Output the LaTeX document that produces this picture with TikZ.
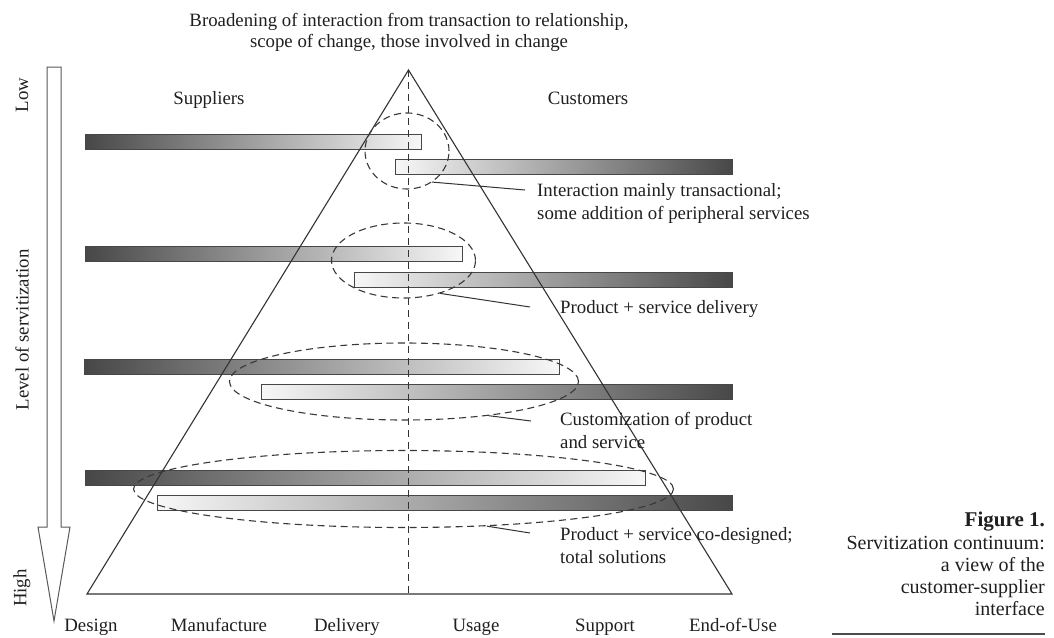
\documentclass[tikz,border=0pt]{standalone}
\usepackage{fontspec}
\setmainfont{Liberation Serif}
\usetikzlibrary{shapes.geometric}
\begin{document}
\begin{tikzpicture}[x=1pt,y=-1pt,
  ink/.style={draw=black!80, line width=1.1pt},
  guide/.style={draw=black!80, line width=1.1pt, dash pattern=on 7pt off 5pt},
  supbar/.style={rectangle, draw=black!72, line width=1pt, left color=black!72, right color=black!3,
                 minimum height=15pt, inner sep=0pt, anchor=north west},
  cusbar/.style={rectangle, draw=black!72, line width=1pt, left color=black!3, right color=black!72,
                 minimum height=15pt, inner sep=0pt, anchor=north west},
  ring/.style={ellipse, draw=black!78, line width=1.1pt, dash pattern=on 7pt off 4.5pt, inner sep=0pt},
  leader/.style={draw=black!80, line width=1pt},
  lbl/.style={font=\fontsize{18.8}{23}\selectfont, text=black!88, inner sep=0pt},
  figcaption/.style={font=\fontsize{20}{22.3}\selectfont, text=black!88, inner sep=0pt, align=right},
]
\useasboundingbox (0,0) rectangle (1054,637);

% title
\node[lbl, font=\fontsize{18.8}{21}\selectfont, align=center, anchor=north] (title) at (409,13)
  {Broadening of interaction from transaction to relationship,\\scope of change, those involved in change};

% servitization arrow on the left
\draw[draw=black!65, line width=1pt, fill=white]
  (47,67) -- (61,67) -- (61,527) -- (70,527) -- (54,621) -- (38,527) -- (47,527) -- cycle;
\node[lbl, rotate=90] (low) at (22,95) {Low};
\node[lbl, rotate=90] (level) at (22,330) {Level of servitization};
\node[lbl, rotate=90] (high) at (22,588) {High};

% column headings
\node[lbl, anchor=base] (sup) at (209,104) {Suppliers};
\node[lbl, anchor=base] (cus) at (588,104) {Customers};

% supplier and customer bars, one pair per level
\node[supbar, minimum width=336pt] (s1) at (85,133.5) {};
\node[cusbar, minimum width=337pt] (c1) at (395,159) {};
\node[supbar, minimum width=377pt] (s2) at (85,246) {};
\node[cusbar, minimum width=378pt] (c2) at (354,271.5) {};
\node[supbar, minimum width=475pt] (s3) at (84,358.5) {};
\node[cusbar, minimum width=471pt] (c3) at (261,384) {};
\node[supbar, minimum width=560pt] (s4) at (85,469.5) {};
\node[cusbar, minimum width=575pt] (c4) at (157,495) {};

% pyramid and centre line
\coordinate (apex) at (408.5,70);
\coordinate (bl) at (87,594);
\coordinate (br) at (732,594);
\coordinate (bm) at (408.5,594);
\draw[ink] (bl) -- (apex) -- (br) -- cycle;
\draw[guide] (apex) -- (bm);

% interaction zones
\node[ring, minimum width=84pt, minimum height=76pt] (e1) at (407,151) {};
\node[ring, minimum width=144pt, minimum height=75pt] (e2) at (403.5,260.5) {};
\node[ring, minimum width=349pt, minimum height=77pt] (e3) at (404,381.5) {};
\node[ring, minimum width=540pt, minimum height=77pt] (e4) at (403.5,489) {};

% level descriptions
\node[lbl, anchor=north west, align=left] (t1) at (537,183)
  {Interaction mainly transactional;\\some addition of peripheral services};
\node[lbl, anchor=base west] (t2) at (560,313) {Product + service delivery};
\node[lbl, anchor=north west, align=left] (t3) at (560,412)
  {Customization of product\\and service};
\node[lbl, anchor=north west, align=left] (t4) at (560,527)
  {Product + service co-designed;\\total solutions};

\coordinate (p1) at (525,190);
\coordinate (p2) at (530,307);
\coordinate (p3) at (531,421);
\coordinate (p4) at (530,533);
\draw[leader] (e1.-51) -- (p1);
\draw[leader] (e2.-42) -- (p2);
\draw[leader] (e3.-22) -- (p3);
\draw[leader] (e4.-24) -- (p4);

% value chain stages
\node[lbl, anchor=base] (d1) at (91,631) {Design};
\node[lbl, anchor=base] (d2) at (219,631) {Manufacture};
\node[lbl, anchor=base] (d3) at (347,631) {Delivery};
\node[lbl, anchor=base] (d4) at (476,631) {Usage};
\node[lbl, anchor=base] (d5) at (605,631) {Support};
\node[lbl, anchor=base] (d6) at (733,631) {End-of-Use};

% caption
\node[figcaption, anchor=north east] (caption) at (1045,512)
  {{\fontsize{21}{22.3}\selectfont\bfseries Figure 1.}\\Servitization continuum:\\a view of the\\customer-supplier\\interface};
\draw[draw=black!70, line width=1.5pt] (832,634) -- (1045,634);
\end{tikzpicture}
\end{document}
